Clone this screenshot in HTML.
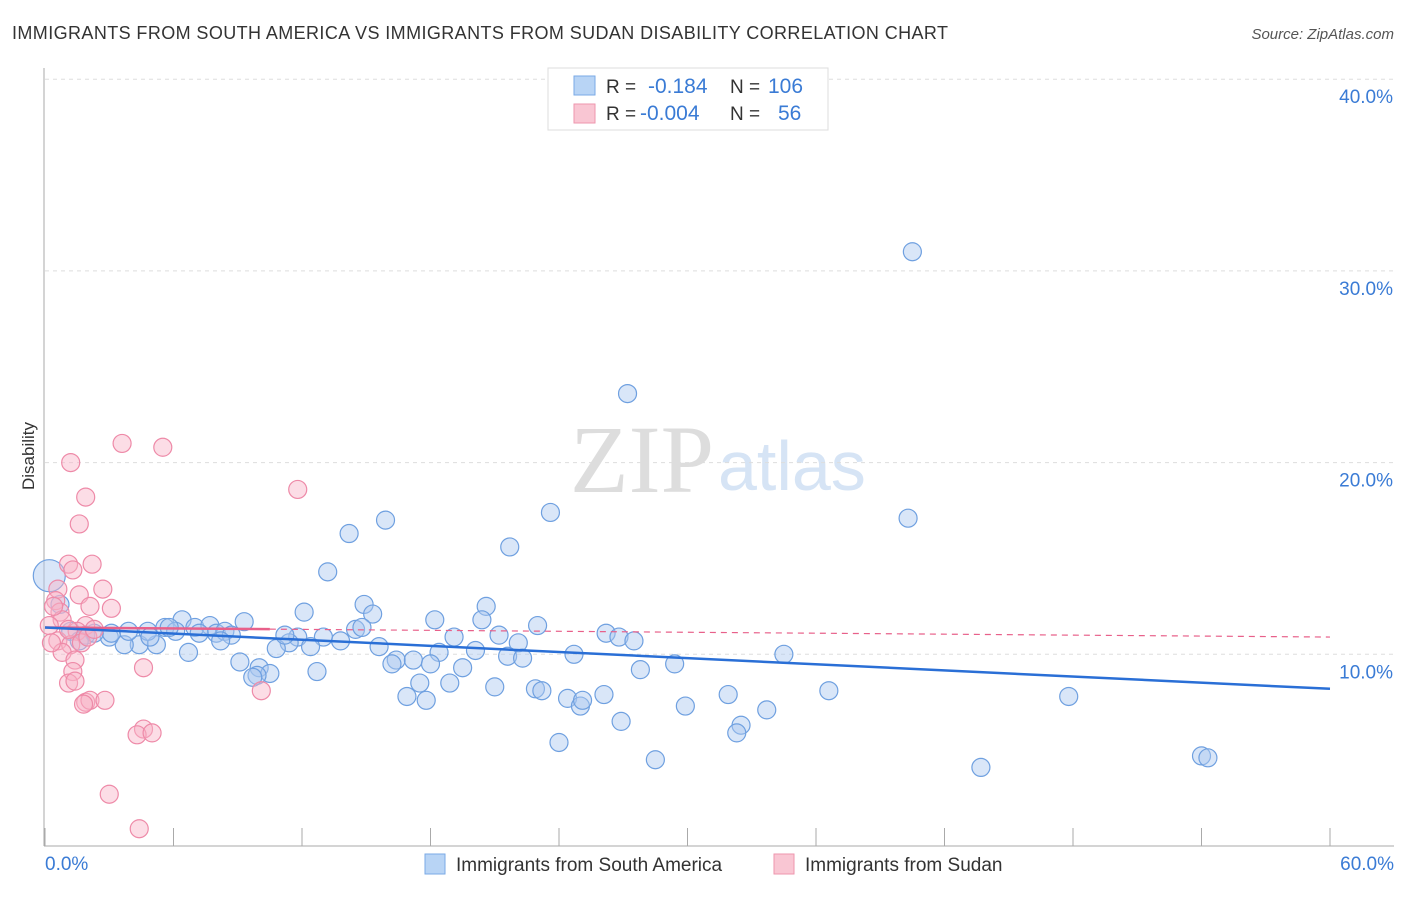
<!DOCTYPE html>
<html><head><meta charset="utf-8"><style>
body{margin:0;background:#fff;font-family:"Liberation Sans",sans-serif}
svg text{font-family:"Liberation Sans",sans-serif}
</style></head><body>
<svg id="chart" width="1406" height="892" xmlns="http://www.w3.org/2000/svg">
<text x="12" y="39" font-size="18" fill="#333" textLength="936">IMMIGRANTS FROM SOUTH AMERICA VS IMMIGRANTS FROM SUDAN DISABILITY CORRELATION CHART</text>
<text x="1394" y="39" font-size="15" fill="#555" font-style="italic" text-anchor="end">Source: ZipAtlas.com</text>
<text x="34" y="456" font-size="17" fill="#333" transform="rotate(-90 34 456)" text-anchor="middle">Disability</text>
<text x="714" y="492" font-size="96" fill="#ddd" style="font-family:'Liberation Serif',serif" text-anchor="end">ZIP</text>
<text x="718" y="490" font-size="70" fill="#d6e4f5">atlas</text>
<g id="grid"></g><g id="axes"></g><g id="pts"></g><g id="lines"></g>
<g>
<rect x="548" y="68" width="280" height="62" fill="#fff" stroke="#ddd"/>
<rect x="574" y="76" width="21" height="19" fill="#b8d4f5" stroke="#7aaae6"/>
<rect x="574" y="104" width="21" height="19" fill="#f9c6d3" stroke="#ee96ae"/>
<text x="606" y="93" font-size="19" fill="#333">R = </text><text x="648" y="93" font-size="21" fill="#3a7bd5">-0.184</text>
<text x="730" y="93" font-size="19" fill="#333">N = </text><text x="768" y="93" font-size="21" fill="#3a7bd5">106</text>
<text x="606" y="120" font-size="19" fill="#333">R = </text><text x="640" y="120" font-size="21" fill="#3a7bd5">-0.004</text>
<text x="730" y="120" font-size="19" fill="#333">N = </text><text x="778" y="120" font-size="21" fill="#3a7bd5">56</text>
</g>
<g>
<rect x="425" y="854" width="20" height="20" fill="#b8d4f5" stroke="#7aaae6"/>
<text x="456" y="871" font-size="19" fill="#333">Immigrants from South America</text>
<rect x="774" y="854" width="20" height="20" fill="#f9c6d3" stroke="#ee96ae"/>
<text x="805" y="871" font-size="19" fill="#333">Immigrants from Sudan</text>
</g>
</svg>
<script>
const xTicks=[0,6,12,18,24,30,36,42,48,54,60];
const yTicks=[10,20,30,40];
const blueX=[40.5,27.2,23.6,40.3,15.9,14.2,21.7,13.2,0.2,14.9,20.6,12.1,15.3,18.2,20.4,23.0,6.4,9.3,26.2,26.8,27.5,19.1,21.2,22.1,11.8,13.0,13.8,11.4,10.8,12.4,15.6,18.4,20.1,21.6,22.3,24.7,34.5,16.4,17.2,18.0,16.2,19.5,27.8,29.4,9.1,10.0,10.5,9.9,9.7,12.7,6.7,4.4,5.2,3.7,3.0,3.1,3.9,4.8,5.6,6.1,7.0,7.7,8.0,8.4,8.7,8.2,7.2,5.8,4.9,11.2,14.5,14.8,0.7,1.2,1.9,2.3,1.6,17.5,18.9,21.0,22.9,23.2,16.9,17.8,24.4,25.0,25.1,26.1,31.9,36.6,47.8,29.9,33.7,26.9,32.5,32.3,24.0,28.5,43.7,54.0,54.3];
const blueY=[31.0,23.6,17.4,17.1,17.0,16.3,15.6,14.3,14.1,12.6,12.5,12.2,12.1,11.8,11.8,11.5,11.8,11.7,11.1,10.9,10.7,10.9,11.0,10.6,10.9,10.9,10.7,10.6,10.3,10.4,10.4,10.1,10.2,9.9,9.8,10.0,10.0,9.7,9.7,9.5,9.5,9.3,9.2,9.5,9.6,9.3,9.0,8.9,8.8,9.1,10.1,10.5,10.5,10.5,10.9,11.1,11.2,11.2,11.4,11.2,11.4,11.5,11.1,11.2,11.0,10.7,11.1,11.4,10.9,11.0,11.3,11.4,12.6,11.2,11.0,11.1,10.7,8.5,8.5,8.3,8.2,8.1,7.8,7.6,7.7,7.3,7.6,7.9,7.9,8.1,7.8,7.3,7.1,6.5,6.3,5.9,5.4,4.5,4.1,4.7,4.6];
const pinkX=[3.6,5.5,1.2,11.8,1.9,1.6,1.1,2.2,1.3,0.6,2.7,1.6,0.5,2.1,3.1,0.7,0.8,0.2,1.9,1.5,0.6,1.2,1.7,0.8,1.4,2.0,2.3,1.1,1.3,4.6,1.1,1.4,10.1,1.9,2.1,2.8,1.8,4.6,4.3,5.0,3.0,4.4,0.3,0.4];
const pinkY=[21.0,20.8,20.0,18.6,18.2,16.8,14.7,14.7,14.4,13.4,13.4,13.1,12.8,12.5,12.4,12.2,11.8,11.5,11.5,11.2,10.7,10.5,10.6,10.1,9.7,10.9,11.3,11.3,9.1,9.3,8.5,8.6,8.1,7.5,7.6,7.6,7.4,6.1,5.8,5.9,2.7,0.9,10.6,12.5];
const blueTrend=[11.4,8.2];
const pinkTrend=[11.4,10.9];
const NS="http://www.w3.org/2000/svg";
const sx=v=>45+v*(1285/60), sy=v=>846-v*19.17;
function mk(p,t,a){const e=document.createElementNS(NS,t);for(const k in a)e.setAttribute(k,a[k]);document.getElementById(p).appendChild(e);return e;}
yTicks.forEach(t=>{
 const g=mk('grid','line',{x1:45,x2:1394,y1:sy(t),y2:sy(t),stroke:'#ddd','stroke-dasharray':'4,4'});
 
 
 const l=mk('grid','text',{x:1393,y:sy(t)+24,'font-size':19,fill:'#3a7bd5','text-anchor':'end'});l.textContent=t.toFixed(1)+'%';
 
 
});
mk('axes','line',{x1:44,x2:44,y1:68,y2:846,stroke:'#aaa'});
mk('axes','line',{x1:44,x2:1394,y1:846,y2:846,stroke:'#aaa'});
xTicks.forEach(t=>{const k=mk('axes','line',{x1:sx(t),x2:sx(t),y1:828,y2:846,stroke:'#aaa'});
 
 });
[[0,'start',45],[60,'end',1394]].forEach(([v,a,x])=>{const l=mk('axes','text',{x:x,y:870,'font-size':19,fill:'#3a7bd5','text-anchor':a});l.textContent=v.toFixed(1)+'%';
 
 });
blueX.forEach((x,i)=>{const c=mk('pts','circle',{cx:sx(x),cy:sy(blueY[i]),r:(i==8?16:9),fill:'rgba(170,200,240,0.45)',stroke:'#6fa0e0','stroke-width':1.2});
 
 });
pinkX.forEach((x,i)=>{const c=mk('pts','circle',{cx:sx(x),cy:sy(pinkY[i]),r:9,fill:'rgba(248,180,200,0.45)',stroke:'#ee8aa8','stroke-width':1.2});
 
 });
const pl=mk('lines','line',{x1:sx(0),y1:sy(pinkTrend[0]),x2:sx(10.5),y2:sy(pinkTrend[0]+(pinkTrend[1]-pinkTrend[0])*10.5/60),stroke:'#e8608a','stroke-width':2.5});


const pd=mk('lines','line',{x1:sx(10.5),y1:sy(pinkTrend[0]+(pinkTrend[1]-pinkTrend[0])*10.5/60),x2:sx(60),y2:sy(pinkTrend[1]),stroke:'#e8608a','stroke-width':1.2,'stroke-dasharray':'6,5'});


const bl=mk('lines','line',{x1:sx(0),y1:sy(blueTrend[0]),x2:sx(60),y2:sy(blueTrend[1]),stroke:'#2a6fd6','stroke-width':2.5});


</script>
</body></html>
